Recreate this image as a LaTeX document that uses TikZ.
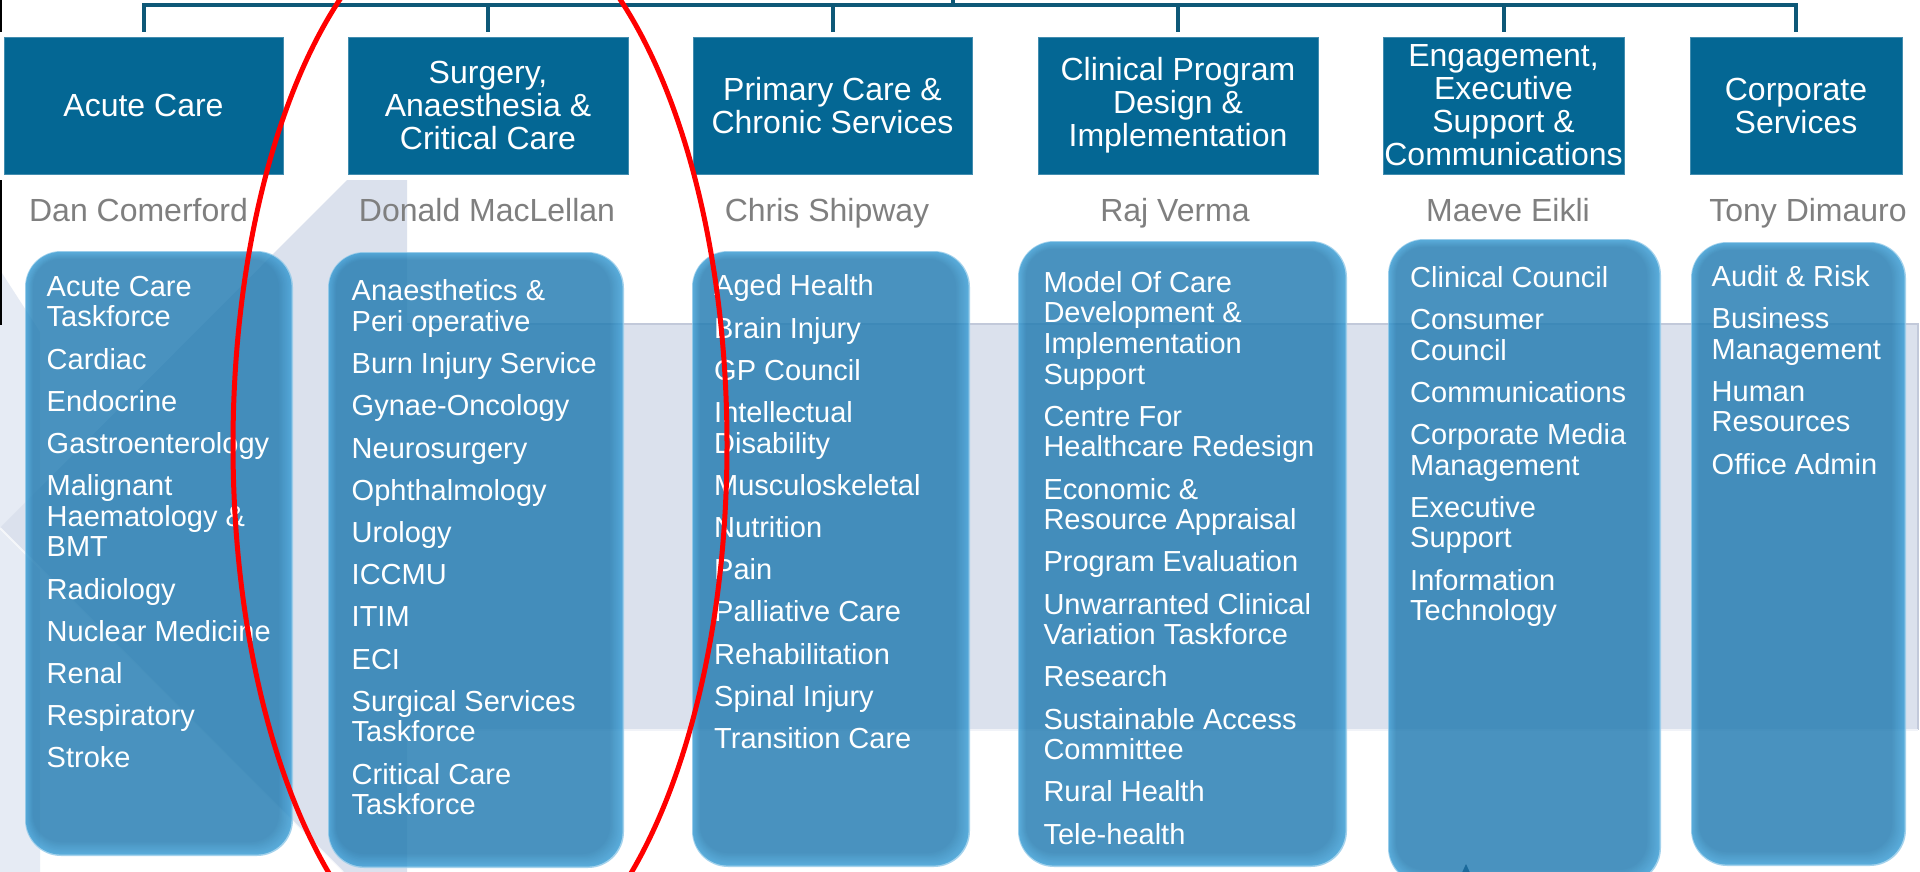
\documentclass[tikz,border=0pt]{standalone}
\usepackage{fontspec}
\setmainfont{Liberation Sans}
\usetikzlibrary{arrows.meta}
\definecolor{hdr}{HTML}{046794}
\definecolor{conn}{HTML}{0E5877}
\definecolor{bandc}{HTML}{DBE1ED}
\definecolor{bandline}{HTML}{C2C9DA}
\definecolor{palec}{HTML}{E6EBF4}
\definecolor{boxedge}{HTML}{379DD6}
\definecolor{boxbody}{HTML}{227BB1}
\definecolor{namec}{HTML}{7F7F7F}
\definecolor{tipc}{HTML}{1B6A9B}
\tikzset{
  hdrbox/.style={draw=hdr!75!white, line width=0.8pt, fill=hdr, text=white, align=center,
    font=\fontsize{32}{33}\selectfont, inner sep=0pt, minimum height=137pt},
  namelbl/.style={text=namec, font=\fontsize{32}{36}\selectfont, inner sep=0pt, anchor=base},
  itemlist/.style={text=white, align=left, font=\fontsize{29}{30.6}\selectfont, inner sep=0pt, anchor=north west},
  link/.style={draw=conn, line width=4pt},
  redring/.style={draw=red, line width=5pt}
}
\newcommand{\bevbox}[4]{%
  \begin{scope}[transparency group, opacity=0.82]
    \fill[boxedge!55!white, rounded corners=36pt] (#1,#2) rectangle (#3,#4);
    \foreach \i in {1,...,10}{
      \pgfmathtruncatemacro{\pct}{\i*10}
      \pgfmathsetmacro{\rc}{36-\i*0.8}
      \fill[boxbody!\pct!boxedge, rounded corners=\rc pt] ({#1+\i*0.8},{#2+\i*0.8}) rectangle ({#3-\i*1.4},{#4-\i*1.4});
    }
  \end{scope}}
\newcommand{\gap}{\\[11.6pt]}
\begin{document}
\begin{tikzpicture}[x=1pt,y=-1pt]
\useasboundingbox (0,0) rectangle (1920,872);
\clip (0,0) rectangle (1920,872);
\fill[white] (0,0) rectangle (1920,872);
% background shapes
\fill[palec] (0,270) -- (40,332) -- (40,872) -- (0,872) -- cycle;
\fill[bandc] (0,528) -- (347,180) -- (407,180) -- (407,872) -- (343,872) -- cycle;
\draw[white, opacity=0.7, line width=2pt] (0,528) -- (343,872);
\fill[bandc] (407,324) rectangle (1918,730);
\draw[bandline, line width=1.5pt] (407,324) -- (1918,324) -- (1918,730);
\draw[white!60!bandc, line width=1.5pt] (407,730) -- (1918,730);
\draw[black, line width=2pt] (1,0) -- (1,32);
\draw[black, line width=2pt] (1,180) -- (1,325);
% header boxes
\node[hdrbox, minimum width=279pt] (h1) at (143.5,105.5) {Acute Care};
\node[hdrbox, minimum width=280pt] (h2) at (488,105.5) {Surgery,\\Anaesthesia \&\\Critical Care};
\node[hdrbox, minimum width=279pt] (h3) at (832.5,105.5) {Primary Care \&\\Chronic Services};
\node[hdrbox, minimum width=280pt] (h4) at (1178,105.5) {Clinical Program\\Design \&\\Implementation};
\node[hdrbox, minimum width=241pt] (h5) at (1503.5,105.5) {Engagement,\\Executive\\Support \&\\Communications};
\node[hdrbox, minimum width=212pt] (h6) at (1796,105.5) {Corporate\\Services};
% connectors
\coordinate (trunk) at (953,5);
\coordinate (above) at (953,-3);
\draw[link] (above) -- (trunk);
\draw[link] ([yshift=5pt]h1.north) |- (trunk) -| ([yshift=5pt]h6.north);
\draw[link] (trunk -| h2.north) -- ([yshift=5pt]h2.north);
\draw[link] (trunk -| h3.north) -- ([yshift=5pt]h3.north);
\draw[link] (trunk -| h4.north) -- ([yshift=5pt]h4.north);
\draw[link] (trunk -| h5.north) -- ([yshift=5pt]h5.north);
% names
\node[namelbl] (n1) at (138.5,221.4) {Dan Comerford};
\node[namelbl] (n2) at (487,221.4) {Donald MacLellan};
\node[namelbl] (n3) at (827,221.4) {Chris Shipway};
\node[namelbl] (n4) at (1175,221.4) {Raj Verma};
\node[namelbl] (n5) at (1508,221.4) {Maeve Eikli};
\node[namelbl] (n6) at (1808,221.4) {Tony Dimauro};
% bevelled boxes
\bevbox{25}{251}{293}{856}
\bevbox{328}{252}{624}{868}
\bevbox{692}{251}{970}{867}
\bevbox{1018}{241}{1347}{867}
\bevbox{1388}{239}{1661}{884}
\bevbox{1691}{242}{1906}{866}
\coordinate (tipbase) at (1466,884);
\coordinate (tiptop) at (1466,864);
\draw[tipc, line width=1pt, -{Triangle[width=8pt,length=9pt]}] (tipbase) -- (tiptop);
% lists
\node[itemlist] (t1) at (46.5,275) {\rule{0pt}{21pt}Acute Care\\Taskforce\gap Cardiac\gap Endocrine\gap Gastroenterology\gap Malignant\\Haematology \&\\BMT\gap Radiology\gap Nuclear Medicine\gap Renal\gap Respiratory\gap Stroke};
\node[itemlist] (t2) at (351.5,279.7) {\rule{0pt}{21pt}Anaesthetics \&\\Peri operative\gap Burn Injury Service\gap Gynae-Oncology\gap Neurosurgery\gap Ophthalmology\gap Urology\gap ICCMU\gap ITIM\gap ECI\gap Surgical Services\\Taskforce\gap Critical Care\\Taskforce};
\node[itemlist] (t3) at (714,274.7) {\rule{0pt}{21pt}Aged Health\gap Brain Injury\gap GP Council\gap Intellectual\\Disability\gap Musculoskeletal\gap Nutrition\gap Pain\gap Palliative Care\gap Rehabilitation\gap Spinal Injury\gap Transition Care};
\node[itemlist] (t4) at (1043.3,271) {\rule{0pt}{21pt}Model Of Care\\Development \&\\Implementation\\Support\gap Centre For\\Healthcare Redesign\gap Economic \&\\Resource Appraisal\gap Program Evaluation\gap Unwarranted Clinical\\Variation Taskforce\gap Research\gap Sustainable Access\\Committee\gap Rural Health\gap Tele-health};
\node[itemlist] (t5) at (1410,266) {\rule{0pt}{21pt}Clinical Council\gap Consumer\\Council\gap Communications\gap Corporate Media\\Management\gap Executive\\Support\gap Information\\Technology};
\node[itemlist] (t6) at (1711.5,265) {\rule{0pt}{21pt}Audit \& Risk\gap Business\\Management\gap Human\\Resources\gap Office Admin};
% red highlight
\draw[redring] (480,445) ellipse [x radius=247pt, y radius=541pt];
\end{tikzpicture}
\end{document}
